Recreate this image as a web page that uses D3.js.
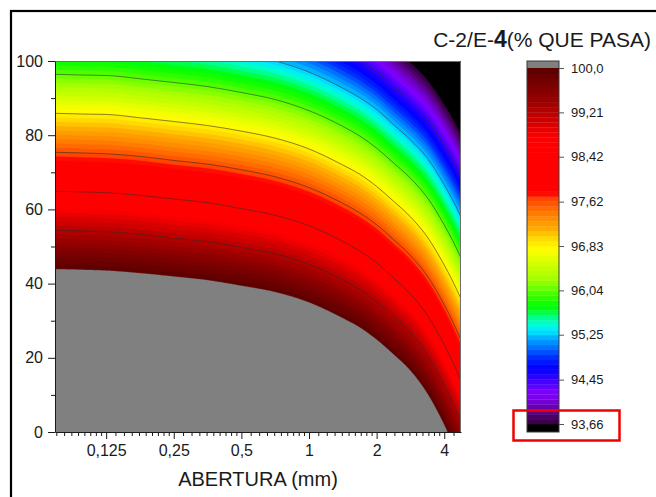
<!DOCTYPE html>
<html>
<head>
<meta charset="utf-8">
<script src="https://cdn.jsdelivr.net/npm/d3@7"></script>
<style>
  body { margin: 0; background: #fff; }
  svg { display: block; }
  text { font-family: "Liberation Sans", Arial, sans-serif; fill: #1a1a1a; }
</style>
</head>
<body>
<svg id="chart" width="656" height="497"></svg>
<script>
// ---- data -------------------------------------------------------------
// contour levels (% que pasa) and their colour-bar labels
const levels = [100.0, 99.21, 98.42, 97.62, 96.83, 96.04, 95.25, 94.45, 93.66];
const levelLabels = ["100,0", "99,21", "98,42", "97,62", "96,83", "96,04", "95,25", "94,45", "93,66"];

// isolines: [abertura (mm), y] points, one array per level
const iso10000 = [[0.074,43.9],[0.1,43.7],[0.125,43.5],[0.177,42.8],[0.25,41.9],[0.354,40.9],[0.5,39.4],[0.707,37.7],[1,34.9],[1.41,30.7],[1.68,28.2],[2,24.9],[2.38,20.9],[2.83,16.5],[3.36,10.4],[4,1.9],[4.14,0]];
const iso9921 = [[0.074,54.4],[0.1,54.2],[0.125,54.0],[0.177,53.3],[0.25,52.3],[0.354,51.3],[0.5,49.8],[0.707,48.1],[1,45.2],[1.41,41.1],[1.68,38.5],[2,35.2],[2.38,31.2],[2.83,26.9],[3.36,20.9],[4,12.7],[4.36,8.0],[4.75,2.7]];
const iso9842 = [[0.074,64.9],[0.1,64.7],[0.125,64.5],[0.177,63.8],[0.25,62.8],[0.354,61.8],[0.5,60.2],[0.707,58.4],[1,55.6],[1.41,51.4],[1.68,48.8],[2,45.6],[2.38,41.5],[2.83,37.2],[3.36,31.5],[4,23.5],[4.36,18.9],[4.75,13.8]];
const iso9762 = [[0.074,75.4],[0.1,75.2],[0.125,75.0],[0.177,74.3],[0.25,73.2],[0.354,72.2],[0.5,70.7],[0.707,68.8],[1,65.9],[1.41,61.7],[1.68,59.1],[2,55.9],[2.38,51.9],[2.83,47.6],[3.36,42.1],[4,34.3],[4.36,29.8],[4.75,24.8]];
const iso9683 = [[0.074,85.9],[0.1,85.7],[0.125,85.6],[0.177,84.7],[0.25,83.7],[0.354,82.6],[0.5,81.1],[0.707,79.2],[1,76.3],[1.41,72.0],[1.68,69.5],[2,66.2],[2.38,62.2],[2.83,58.0],[3.36,52.6],[4,45.0],[4.36,40.7],[4.75,35.9]];
const iso9604 = [[0.074,96.4],[0.1,96.2],[0.125,96.1],[0.177,95.2],[0.25,94.2],[0.354,93.1],[0.5,91.5],[0.707,89.6],[1,86.6],[1.41,82.4],[1.68,79.8],[2,76.5],[2.38,72.5],[2.83,68.4],[3.36,63.2],[4,55.8],[4.36,51.6],[4.75,46.9]];
const iso9525 = [[0.71,100],[1,97.0],[1.41,92.7],[1.68,90.1],[2,86.9],[2.38,82.8],[2.83,78.7],[3.36,73.8],[4,66.6],[4.36,62.5],[4.75,58.0]];
const iso9445 = [[1.72,100],[2,97.2],[2.38,93.2],[2.83,89.1],[3.36,84.3],[4,77.4],[4.36,73.5],[4.75,69.0]];
const iso9366 = [[2.77,100],[2.83,99.5],[3.36,94.9],[4,88.2],[4.36,84.4],[4.75,80.1]];
const isolines = [iso10000, iso9921, iso9842, iso9762, iso9683, iso9604, iso9525, iso9445, iso9366];

// axes
const xDomain = [0.074, 4.75];
const xTicks = [0.125, 0.25, 0.5, 1, 2, 4];
const xTickLabels = ["0,125", "0,25", "0,5", "1", "2", "4"];
const yTicks = [0, 20, 40, 60, 80, 100];
const yMinorTicks = [10, 30, 50, 70, 90];

// colour map stops
const paletteValues = [93.66, 93.74, 93.86, 93.97, 94.09, 94.22, 94.32, 94.48, 94.66, 94.86, 95.02, 95.16, 95.3, 95.43, 95.57, 95.75, 95.87, 96.05, 96.23, 96.41, 96.5, 96.64, 96.76, 96.85, 96.94, 97.03, 97.12, 97.2, 97.3, 97.38, 97.47, 97.56, 97.69, 97.77, 98.77, 98.95, 99.25, 99.55, 100];
const paletteColors = ["#300038","#400050","#580080","#6800b0","#7800e0","#8000ff","#6000ff","#3000ff","#0000ff","#0030ff","#0070ff","#00a0ff","#00e0ff","#00ffe0","#00ff80","#00ff00","#20ff00","#60ff00","#a0ff00","#c0ff00","#d0ff00","#e8ff00","#ffff00","#fff000","#ffe000","#ffc800","#ffb000","#ffa000","#ff9000","#ff8000","#ff7000","#ff5a00","#ff4000","#ff0000","#ff0000","#e00000","#b00000","#8a0000","#5a0000"];
const overColor = "#808080";   // above 100
const underColor = "#000000";  // below 93.66
const bandCount = 72;

// ---- layout ----------------------------------------------------------
const plot = { left: 55, top: 61, right: 461, bottom: 432 };
const bar = { left: 527, right: 559, top: 61, bottom: 432 };

const svg = d3.select("#chart");

const x = d3.scaleLog().base(2).domain(xDomain).range([plot.left, plot.right]);
const y = d3.scaleLinear().domain([0, 100]).range([plot.bottom, plot.top]);
const palette = d3.scaleLinear().domain(paletteValues).range(paletteColors)
  .interpolate(d3.interpolateRgb).clamp(true);

const lo = levels[levels.length - 1], hi = levels[0];
const thresholds = d3.range(bandCount + 1).map(i => lo + (hi - lo) * i / bandCount);
const bandStep = (hi - lo) / bandCount;

// outer frame of the figure
svg.append("rect").attr("x", 11).attr("y", 11).attr("width", 720).attr("height", 620)
  .attr("fill", "none").attr("stroke", "#000").attr("stroke-width", 2.2);

// ---- value field from the isolines -------------------------------------
// Each isoline is evaluated as the same monotone cubic (in pixel space)
// that d3.curveMonotoneX uses to stroke it, so fills and lines agree.
function sgn(v) { return v < 0 ? -1 : 1; }
function monotoneSpline(pts) {
  const X = pts.map(d => x(d[0])), Y = pts.map(d => y(d[1]));
  const n = X.length, t = new Array(n);
  for (let i = 1; i < n - 1; i++) {
    const h0 = X[i] - X[i - 1], h1 = X[i + 1] - X[i];
    const s0 = (Y[i] - Y[i - 1]) / h0, s1 = (Y[i + 1] - Y[i]) / h1;
    const p = (s0 * h1 + s1 * h0) / (h0 + h1);
    t[i] = (sgn(s0) + sgn(s1)) * Math.min(Math.abs(s0), Math.abs(s1), 0.5 * Math.abs(p)) || 0;
  }
  if (n > 2) {
    t[0] = (3 * (Y[1] - Y[0]) / (X[1] - X[0]) - t[1]) / 2;
    t[n - 1] = (3 * (Y[n - 1] - Y[n - 2]) / (X[n - 1] - X[n - 2]) - t[n - 2]) / 2;
  } else {
    t[0] = t[1] = (Y[1] - Y[0]) / (X[1] - X[0]);
  }
  return function(px) {
    if (px < X[0] || px > X[n - 1]) return null;
    let k = 0;
    while (k < n - 2 && px > X[k + 1]) k++;
    const h = X[k + 1] - X[k], u = (px - X[k]) / h;
    const u2 = u * u, u3 = u2 * u;
    return (2 * u3 - 3 * u2 + 1) * Y[k] + (u3 - 2 * u2 + u) * h * t[k] +
           (-2 * u3 + 3 * u2) * Y[k + 1] + (u3 - u2) * h * t[k + 1];
  };
}
const splines = isolines.map(monotoneSpline);

const step = 1;
const nx = Math.ceil((plot.right - plot.left) / step);
const ny = Math.ceil((plot.bottom - plot.top) / step);
const values = new Float64Array(nx * ny);

for (let i = 0; i < nx; i++) {
  const px = plot.left + (i + 0.5) * step;
  const pairs = [];
  splines.forEach((f, k) => {
    const py = f(px);
    if (py !== null) pairs.push([py, levels[k]]);
  });
  pairs.sort((a, b) => a[0] - b[0]);
  const col = d3.scaleLinear().domain(pairs.map(p => p[0])).range(pairs.map(p => p[1]));
  for (let j = 0; j < ny; j++) {
    values[j * nx + i] = col(plot.top + (j + 0.5) * step);
  }
}

// ---- filled contours ---------------------------------------------------
svg.append("clipPath").attr("id", "plot-clip")
  .append("rect").attr("x", plot.left).attr("y", plot.top)
  .attr("width", plot.right - plot.left).attr("height", plot.bottom - plot.top);

const fillG = svg.append("g").attr("clip-path", "url(#plot-clip)");
fillG.append("rect").attr("x", plot.left).attr("y", plot.top)
  .attr("width", plot.right - plot.left).attr("height", plot.bottom - plot.top)
  .attr("fill", underColor);

const contours = d3.contours().size([nx, ny]).thresholds(thresholds)(values);
const gridPath = d3.geoPath(d3.geoIdentity().scale(step).translate([plot.left, plot.top]));
const bandColor = d => d.value >= hi - 1e-9 ? overColor : palette(d.value + bandStep / 2);

fillG.selectAll("path.band").data(contours).join("path")
  .attr("class", "band")
  .attr("d", gridPath)
  .attr("fill", bandColor)
  .attr("stroke", bandColor)
  .attr("stroke-width", 0.3);

// isolines
const line = d3.line().x(d => x(d[0])).y(d => y(d[1])).curve(d3.curveMonotoneX);
fillG.selectAll("path.iso").data(isolines.slice(1, 8)).join("path")
  .attr("class", "iso")
  .attr("d", line)
  .attr("fill", "none")
  .attr("stroke", "#2b2b2b")
  .attr("stroke-opacity", 0.8)
  .attr("stroke-width", 0.7);

// top and right edges of the plot area
svg.append("path")
  .attr("d", `M${plot.left},${plot.top + 0.5}H${plot.right - 0.5}V${plot.bottom}`)
  .attr("fill", "none").attr("stroke", "#6e6e6e").attr("stroke-width", 1);

// ---- axes ---------------------------------------------------------------
svg.append("g").attr("transform", `translate(${plot.left},0)`)
  .call(d3.axisLeft(y).tickValues(yTicks).tickFormat(d3.format("d"))
    .tickSize(7).tickSizeOuter(0).tickPadding(5));
svg.append("g").attr("transform", `translate(${plot.left},0)`)
  .call(d3.axisLeft(y).tickValues(yMinorTicks).tickFormat("").tickSize(4).tickSizeOuter(0))
  .select(".domain").remove();

const xMinor = [];
[0.0625, 0.125, 0.25, 0.5, 1, 2, 4].forEach(m => {
  for (let k = 1; k <= 9; k++) {
    const v = m * (1 + k / 10);
    if (v >= xDomain[0] && v <= xDomain[1]) xMinor.push(v);
  }
});

svg.append("g").attr("transform", `translate(0,${plot.bottom})`)
  .call(d3.axisBottom(x).tickValues(xTicks).tickFormat((d, i) => xTickLabels[i])
    .tickSize(7).tickSizeOuter(0).tickPadding(6));
svg.append("g").attr("transform", `translate(0,${plot.bottom})`)
  .call(d3.axisBottom(x).tickValues(xMinor).tickFormat("").tickSize(4).tickSizeOuter(0))
  .select(".domain").remove();

svg.selectAll(".tick text").attr("font-size", 16).style("font-family", '"Liberation Sans", Arial, sans-serif').attr("fill", "#1a1a1a");
svg.selectAll(".domain, .tick line").attr("stroke", "#1a1a1a");

svg.append("text").attr("x", (plot.left + plot.right) / 2).attr("y", 486)
  .attr("text-anchor", "middle").attr("font-size", 20).text("ABERTURA (mm)");

// ---- colour bar --------------------------------------------------------
const cb = d3.scaleLinear().domain([lo, hi]).range([424, 68]);
const barG = svg.append("g");
barG.append("rect").attr("x", bar.left).attr("y", bar.top)
  .attr("width", bar.right - bar.left).attr("height", cb(hi) - bar.top).attr("fill", overColor);
barG.append("rect").attr("x", bar.left).attr("y", cb(lo))
  .attr("width", bar.right - bar.left).attr("height", bar.bottom - cb(lo)).attr("fill", underColor);
barG.selectAll("rect.band").data(thresholds.slice(0, bandCount)).join("rect")
  .attr("class", "band")
  .attr("x", bar.left)
  .attr("y", d => cb(d + bandStep))
  .attr("width", bar.right - bar.left)
  .attr("height", d => cb(d) - cb(d + bandStep) + 0.3)
  .attr("fill", d => palette(d + bandStep / 2));
barG.append("rect").attr("x", bar.left).attr("y", bar.top)
  .attr("width", bar.right - bar.left).attr("height", bar.bottom - bar.top)
  .attr("fill", "none").attr("stroke", "#3a3a3a").attr("stroke-width", 1);

const barAxis = svg.append("g").attr("transform", `translate(${bar.right},0)`)
  .call(d3.axisRight(cb).tickValues(levels).tickFormat((d, i) => levelLabels[i])
    .tickSize(5).tickSizeOuter(0).tickPadding(7));
barAxis.select(".domain").remove();
barAxis.selectAll(".tick line").attr("stroke", "#555");
barAxis.selectAll(".tick text").attr("font-size", 13).attr("fill", "#1a1a1a")
  .style("font-family", '"Liberation Sans", Arial, sans-serif');

// colour bar title
const title = svg.append("text").attr("x", 651).attr("y", 46.5)
  .attr("text-anchor", "end").attr("font-size", 21);
title.append("tspan").text("C-2/E-");
title.append("tspan").attr("font-weight", "bold").attr("font-size", 23).text("4");
title.append("tspan").text("(% QUE PASA)");

// highlight around the lowest level
svg.append("rect").attr("x", 513.5).attr("y", 410.5).attr("width", 106).attr("height", 30)
  .attr("fill", "none").attr("stroke", "#ee0000").attr("stroke-width", 2.5);
</script>
</body>
</html>
